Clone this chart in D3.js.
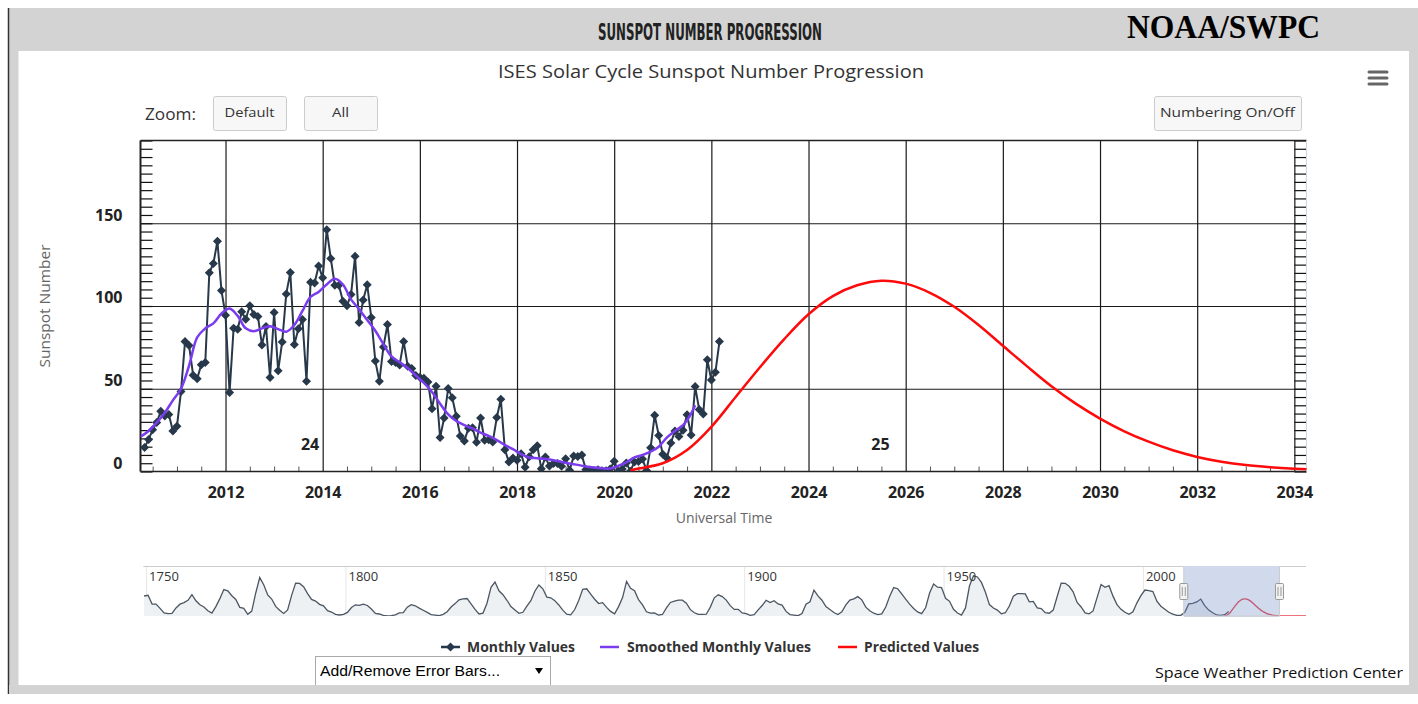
<!DOCTYPE html>
<html>
<head>
<meta charset="utf-8">
<script src="https://cdn.jsdelivr.net/npm/d3@7"></script>
<style>
  body { margin: 0; background: #fff; }
  svg { display: block; font-family: "Open Sans", sans-serif; }
</style>
</head>
<body>
<svg id="chart" width="1418" height="704"></svg>

<script>

// ---- data ----
// monthly sunspot numbers, first value is May 2010
var monthlyStart = "2010-05";
var monthlyValues = [
  14.5, 19.4, 25.2, 29.6, 36.4, 33.6, 34.4, 24.5,
  27.3, 48.3, 78.6, 76.1, 58.2, 56.1, 64.5, 65.8, 120.1, 125.7, 139.1, 109.3,
  94.4, 47.8, 86.6, 85.9, 96.5, 92.0, 100.1, 94.8, 93.7, 76.5, 87.6, 56.8,
  96.1, 60.9, 78.3, 107.3, 120.2, 76.7, 86.2, 91.8, 54.5, 114.4, 113.9, 124.2,
  117.0, 146.1, 128.7, 112.5, 112.5, 102.9, 100.2, 106.9, 130.0, 90.0, 103.6, 112.9,
  93.0, 66.7, 54.5, 75.3, 88.8, 66.5, 65.8, 64.4, 78.6, 63.6, 62.2, 58.0,
  57.0, 56.4, 54.1, 37.9, 51.5, 20.5, 32.4, 50.2, 44.6, 33.4, 21.4, 18.5,
  26.1, 26.4, 17.7, 32.3, 18.9, 19.2, 17.8, 32.6, 43.6, 13.2, 5.7, 8.2,
  6.8, 10.7, 2.5, 8.9, 13.1, 15.6, 1.6, 8.7, 3.3, 4.9, 4.9, 3.1,
  7.7, 0.8, 9.4, 9.1, 9.9, 1.2, 0.9, 0.5, 1.1, 0.4, 0.5, 1.5,
  6.2, 0.2, 1.5, 5.2, 0.2, 5.8, 6.1, 7.5, 0.6, 14.4, 34.0, 21.8,
  10.4, 8.2, 17.2, 24.5, 21.2, 25.0, 34.3, 22.0, 51.3, 37.4, 34.8, 67.5,
  55.3, 59.9, 78.5
];

var smoothedDates = [
  "2010-04","2010-06","2010-08","2010-10","2010-12","2011-02","2011-04","2011-06","2011-08","2011-10","2011-12",
  "2012-02","2012-04","2012-06","2012-08","2012-10","2012-12","2013-02","2013-04","2013-06","2013-08","2013-10","2013-12",
  "2014-02","2014-04","2014-06","2014-08","2014-10","2014-12","2015-02","2015-04","2015-06","2015-08","2015-10","2015-12",
  "2016-02","2016-04","2016-06","2016-08","2016-10","2016-12","2017-02","2017-04","2017-06","2017-08","2017-10","2017-12",
  "2018-02","2018-04","2018-06","2018-08","2018-10","2018-12","2019-02","2019-04","2019-06","2019-08","2019-10","2019-12",
  "2020-02","2020-04","2020-06","2020-08","2020-10","2020-12","2021-02","2021-04","2021-06","2021-07","2021-08","2021-09"
];
var smoothedValues = [
  21, 24.5, 29.5, 35.5, 43, 50, 64, 81, 86.5, 89.5, 95.5,
  98.5, 94, 86.5, 84.8, 86.5, 87.8, 86, 84.5, 88.5, 97, 105.5, 108.5,
  113, 116.5, 113, 104, 98, 91.5, 85, 77, 69.5, 66, 62.5, 58,
  53.5, 48, 41, 34.5, 30.5, 28, 26, 23.5, 21.5, 19, 16, 13.5,
  10.5, 8.5, 8, 7.5, 6.8, 5.8, 4.8, 4, 3, 2.4, 2, 1.8,
  3.4, 5.5, 8.5, 10, 12, 15, 20.5, 24.5, 28, 31, 35, 40
];

var predictedDates = [
  "2020-05","2020-07","2021-01","2021-07","2022-01","2022-07","2023-01","2023-07",
  "2024-01","2024-07","2025-01","2025-07","2026-01","2026-07","2027-01","2027-07","2028-01",
  "2028-07","2029-01","2029-07","2030-01","2030-07","2031-01","2031-07","2032-01","2032-07",
  "2033-01","2033-07","2034-01","2034-07","2035-07","2037-01","2040-12"
];
var predictedValues = [
  0.8, 1.8, 5, 13, 27, 45, 63, 80,
  95, 106, 112.5, 115.3, 113.5, 108, 99.5, 88.5, 76,
  63.5, 51.5, 41, 32, 24.3, 18, 12.8, 8.8, 5.9,
  3.9, 2.6, 1.7, 1.1, 0.6, 0.3, 0.1
];

// yearly values for the navigator, first value is 1749
var historyStart = 1749;
var historyYearly = [
  134.0, 139.0, 79.5, 79.7, 51.2, 20.3, 16.0, 17.0, 54.0, 79.3,
  90.0, 104.8, 143.2, 102.0, 75.2, 60.7, 34.8, 19.0, 63.0, 116.3,
  176.8, 168.0, 136.0, 110.8, 58.0, 51.0, 11.7, 33.0, 154.2, 257.3,
  209.8, 141.3, 113.5, 64.2, 38.0, 17.0, 40.2, 138.2, 220.0, 218.2,
  196.8, 149.8, 111.0, 100.0, 78.2, 68.3, 35.5, 26.7, 10.7, 6.8,
  11.3, 24.2, 56.7, 75.0, 71.8, 79.2, 70.3, 46.8, 16.8, 13.5,
  4.2, 0.0, 2.3, 8.3, 20.3, 23.2, 59.0, 76.3, 68.3, 52.9,
  38.5, 24.2, 9.2, 6.3, 2.2, 11.4, 28.2, 59.9, 83.0, 108.5,
  115.2, 117.4, 80.8, 44.3, 13.4, 19.5, 85.8, 192.7, 227.3, 168.7,
  143.0, 105.5, 63.3, 40.3, 18.1, 25.1, 65.8, 102.7, 166.3, 208.3,
  182.5, 126.3, 122.0, 102.7, 74.1, 39.0, 12.7, 8.2, 43.4, 104.4,
  178.3, 182.2, 146.6, 112.1, 83.5, 89.2, 57.8, 30.7, 13.9, 62.8,
  123.6, 232.0, 185.3, 169.2, 110.1, 74.5, 28.3, 18.9, 20.7, 5.7,
  10.0, 53.7, 90.5, 99.0, 106.1, 105.8, 86.3, 42.4, 21.8, 11.2,
  10.4, 11.8, 59.5, 121.7, 142.0, 130.0, 106.6, 69.4, 43.8, 44.4,
  20.2, 15.7, 4.6, 8.5, 40.8, 70.1, 105.5, 90.1, 102.8, 80.9,
  73.2, 30.9, 9.5, 6.0, 2.4, 16.1, 79.0, 95.0, 173.6, 134.6,
  105.7, 62.7, 43.5, 23.7, 9.7, 27.9, 74.0, 106.5, 114.7, 129.7,
  108.2, 59.4, 35.1, 18.6, 9.2, 14.6, 60.2, 132.8, 190.6, 182.6,
  148.0, 113.0, 79.2, 50.8, 27.1, 16.1, 55.3, 154.3, 214.7, 193.0,
  190.7, 118.9, 98.3, 45.0, 20.1, 6.6, 54.2, 200.7, 269.3, 261.7,
  225.1, 159.0, 76.4, 53.4, 39.9, 15.0, 22.0, 66.8, 132.9, 150.0,
  149.4, 148.0, 94.4, 97.6, 54.1, 49.2, 22.5, 18.4, 39.3, 131.0,
  220.1, 218.9, 198.9, 162.4, 91.0, 60.5, 20.6, 14.8, 33.9, 123.0,
  211.1, 191.8, 203.3, 133.0, 76.1, 44.9, 25.1, 11.6, 28.9, 88.3,
  136.3, 173.9, 170.4, 163.6, 99.3, 65.3, 45.8, 24.7, 12.6, 4.2,
  4.8, 24.9, 80.8, 84.5, 94.0, 113.3, 69.8, 39.8, 21.7, 7.0,
  3.6, 8.8, 29.6
];

var yTicks = [0, 50, 100, 150];
var xTicks = [2012, 2014, 2016, 2018, 2020, 2022, 2024, 2026, 2028, 2030, 2032, 2034];
var navTicks = [1750, 1800, 1850, 1900, 1950, 2000];
var cycleNames = ["24", "25"];
var cycleYears = [2013.74, 2025.48];
var legendNames = ["Monthly Values", "Smoothed Monthly Values", "Predicted Values"];
var viewRange = [2010.25, 2034.25];

// ---- helpers ----
function toYear(s) { return +s.slice(0, 4) + (+s.slice(5, 7) - 1) / 12; }
var monthlyPts = monthlyValues.map(function(v, i) { return { t: toYear(monthlyStart) + i / 12, v: v }; });
var smoothedPts = smoothedDates.map(function(d, i) { return { t: toYear(d), v: smoothedValues[i] }; });
var predictedPts = predictedDates.map(function(d, i) { return { t: toYear(d), v: predictedValues[i] }; });
var historyPts = historyYearly.map(function(v, i) { return { t: historyStart + i + 0.5, v: v }; });

var colMonthly = '#27384a', colSmooth = '#7b3cf0', colPred = '#ff0a0a';

var svg = d3.select('#chart');

// ---- page frame ----
svg.append('rect').attr('x', 9).attr('y', 8).attr('width', 1409).attr('height', 686).attr('fill', '#d3d3d3');
svg.append('line').attr('x1', 8.5).attr('x2', 8.5).attr('y1', 8).attr('y2', 694).attr('stroke', '#333').attr('stroke-width', 1.5);
svg.append('rect').attr('x', 18.5).attr('y', 51).attr('width', 1390.5).attr('height', 634).attr('fill', '#fff');

svg.append('text').attr('x', 710).attr('y', 40).attr('text-anchor', 'middle')
  .attr('font-family', '"DejaVu Sans Condensed", "DejaVu Sans", sans-serif').attr('font-weight', 'bold')
  .attr('font-size', 23).attr('fill', '#222').attr('textLength', 224).attr('lengthAdjust', 'spacingAndGlyphs')
  .text('SUNSPOT NUMBER PROGRESSION');
svg.append('text').attr('x', 1127).attr('y', 38)
  .attr('font-family', '"Liberation Serif", serif').attr('font-weight', 'bold')
  .attr('font-size', 34).attr('fill', '#000').attr('textLength', 193).attr('lengthAdjust', 'spacingAndGlyphs')
  .text('NOAA/SWPC');

svg.append('text').attr('x', 711).attr('y', 78).attr('text-anchor', 'middle')
  .attr('font-size', 18).attr('fill', '#333').attr('textLength', 426).attr('lengthAdjust', 'spacingAndGlyphs')
  .text('ISES Solar Cycle Sunspot Number Progression');

// hamburger
[72, 78, 84].forEach(function(yy) {
  svg.append('line').attr('x1', 1369).attr('x2', 1387).attr('y1', yy).attr('y2', yy)
    .attr('stroke', '#666').attr('stroke-width', 3).attr('stroke-linecap', 'round');
});

// zoom buttons
svg.append('text').attr('x', 145).attr('y', 120).attr('font-size', 17).attr('fill', '#333')
  .attr('textLength', 51).attr('lengthAdjust', 'spacingAndGlyphs').text('Zoom:');
function button(x0, x1, label, tl) {
  svg.append('rect').attr('x', x0 + 0.5).attr('y', 96.5).attr('width', x1 - x0).attr('height', 34).attr('rx', 2)
    .attr('fill', '#f7f7f7').attr('stroke', '#cccccc');
  svg.append('text').attr('x', (x0 + x1) / 2).attr('y', 117).attr('text-anchor', 'middle')
    .attr('font-size', 13).attr('fill', '#333').attr('textLength', tl).attr('lengthAdjust', 'spacingAndGlyphs').text(label);
}
button(213, 286, 'Default', 50);
button(304, 377, 'All', 17);
button(1154, 1301, 'Numbering On/Off', 135);

// ---- main plot ----
var plot = { left: 140.5, right: 1306.5, top: 140.5, bottom: 471.5 };
var x = d3.scaleLinear().domain(viewRange).range([plot.left, plot.right]);
var y = d3.scaleLinear().domain([0, 200]).range([plot.bottom, plot.top]);

// grid
var gx = svg.append('g').attr('transform', 'translate(0,' + plot.bottom + ')')
  .call(d3.axisBottom(x).tickValues(xTicks).tickSize(-(plot.bottom - plot.top)).tickFormat(''));
gx.select('.domain').remove();
gx.selectAll('line').attr('stroke', '#1a1a1a').attr('stroke-width', 1.2);

var gy = svg.append('g').attr('transform', 'translate(' + plot.left + ',0)')
  .call(d3.axisLeft(y).tickValues([50, 100, 150]).tickSize(-(plot.right - plot.left)).tickFormat(''));
gy.select('.domain').remove();
gy.selectAll('line').attr('stroke', '#1a1a1a').attr('stroke-width', 1.2);

// minor ticks
var minorX = d3.range(viewRange[0] + 0.25, viewRange[1], 0.5).filter(function(v) { return v % 2 !== 0; });
var mx = svg.append('g').attr('transform', 'translate(0,' + plot.bottom + ')')
  .call(d3.axisBottom(x).tickValues(minorX).tickSize(-5).tickFormat(''));
mx.select('.domain').remove();
mx.selectAll('line').attr('stroke', '#555');

var minorY = d3.range(0, 201, 5);
var myl = svg.append('g').attr('transform', 'translate(' + plot.left + ',0)')
  .call(d3.axisLeft(y).tickValues(minorY).tickSize(-12).tickFormat(''));
myl.select('.domain').remove();
myl.selectAll('line').attr('stroke', '#111').attr('stroke-width', 1.2);
var myr = svg.append('g').attr('transform', 'translate(' + plot.right + ',0)')
  .call(d3.axisRight(y).tickValues(minorY).tickSize(-12).tickFormat(''));
myr.select('.domain').remove();
myr.selectAll('line').attr('stroke', '#111').attr('stroke-width', 1.2);

// borders
svg.append('line').attr('x1', plot.left).attr('x2', plot.right).attr('y1', plot.top).attr('y2', plot.top).attr('stroke', '#222').attr('stroke-width', 1.5);
svg.append('line').attr('x1', plot.left).attr('x2', plot.right).attr('y1', plot.bottom).attr('y2', plot.bottom).attr('stroke', '#222').attr('stroke-width', 1.5);
svg.append('line').attr('x1', plot.left).attr('x2', plot.left).attr('y1', plot.top).attr('y2', plot.bottom).attr('stroke', '#222').attr('stroke-width', 2);
svg.append('line').attr('x1', plot.right).attr('x2', plot.right).attr('y1', plot.top).attr('y2', plot.bottom).attr('stroke', '#ccd6eb').attr('stroke-width', 1);

// axis labels
var xl = svg.append('g').attr('transform', 'translate(0,' + plot.bottom + ')')
  .call(d3.axisBottom(x).tickValues(xTicks).tickSize(0).tickPadding(15).tickFormat(d3.format('d')));
xl.select('.domain').remove();
xl.attr('font-family', '"Open Sans", sans-serif').attr('font-size', 16).attr('font-weight', 'bold');
xl.selectAll('text').attr('fill', '#222');

var yl = svg.append('g').attr('transform', 'translate(' + plot.left + ',0)')
  .call(d3.axisLeft(y).tickValues(yTicks).tickSize(0).tickPadding(18));
yl.select('.domain').remove();
yl.attr('font-family', '"Open Sans", sans-serif').attr('font-size', 16).attr('font-weight', 'bold');
yl.selectAll('text').attr('fill', '#222').attr('dy', '-0.2em');

svg.append('text').attr('x', 724).attr('y', 523).attr('text-anchor', 'middle')
  .attr('font-size', 14).attr('fill', '#666').text('Universal Time');
svg.append('text').attr('transform', 'translate(50,306) rotate(-90)').attr('text-anchor', 'middle')
  .attr('font-size', 14).attr('fill', '#666').attr('textLength', 123).attr('lengthAdjust', 'spacingAndGlyphs')
  .text('Sunspot Number');

// series
svg.append('clipPath').attr('id', 'plot-clip').append('rect')
  .attr('x', plot.left).attr('y', plot.top - 6).attr('width', plot.right - plot.left).attr('height', plot.bottom - plot.top + 6);
var series = svg.append('g').attr('clip-path', 'url(#plot-clip)');

var line = d3.line().x(function(d) { return x(d.t); }).y(function(d) { return y(d.v); });
var smoothLine = d3.line().curve(d3.curveCatmullRom.alpha(0.5)).x(function(d) { return x(d.t); }).y(function(d) { return y(d.v); });

series.append('path').datum(monthlyPts).attr('d', line)
  .attr('fill', 'none').attr('stroke', colMonthly).attr('stroke-width', 2).attr('stroke-linejoin', 'round');
series.selectAll('path.diamond').data(monthlyPts).enter().append('path').attr('class', 'diamond')
  .attr('d', function(d) {
    var cx = x(d.t), cy = y(d.v), r = 4.5;
    return 'M' + cx + ',' + (cy - r) + 'L' + (cx + r) + ',' + cy + 'L' + cx + ',' + (cy + r) + 'L' + (cx - r) + ',' + cy + 'Z';
  })
  .attr('fill', colMonthly);

series.append('path').datum(smoothedPts).attr('d', smoothLine)
  .attr('fill', 'none').attr('stroke', colSmooth).attr('stroke-width', 2.5);
series.append('path').datum(predictedPts).attr('d', smoothLine)
  .attr('fill', 'none').attr('stroke', colPred).attr('stroke-width', 2.5);

// cycle numbers
cycleNames.forEach(function(c, i) {
  svg.append('text').attr('x', x(cycleYears[i])).attr('y', y(13)).attr('text-anchor', 'middle')
    .attr('font-size', 16).attr('font-weight', 'bold').attr('fill', '#222').text(c);
});

// ---- navigator ----
var nav = { left: 143.3, right: 1306, top: 566, bottom: 616 };
var nx = d3.scaleLinear().domain([1749.3, 2040.9]).range([nav.left, nav.right]);
var ny = d3.scaleLinear().domain([0, 335]).range([nav.bottom, nav.top]);

var ng = svg.append('g').attr('transform', 'translate(0,' + nav.bottom + ')')
  .call(d3.axisBottom(nx).tickValues(navTicks).tickSize(-(nav.bottom - nav.top)).tickFormat(''));
ng.select('.domain').remove();
ng.selectAll('line').attr('stroke', '#e6e6e6');

svg.append('clipPath').attr('id', 'nav-clip').append('rect')
  .attr('x', nav.left).attr('y', nav.top).attr('width', nav.right - nav.left).attr('height', nav.bottom - nav.top);
var navSeries = svg.append('g').attr('clip-path', 'url(#nav-clip)');
var navArea = d3.area().x(function(d) { return nx(d.t); }).y0(nav.bottom).y1(function(d) { return ny(d.v); });
var navLine = d3.line().x(function(d) { return nx(d.t); }).y(function(d) { return ny(d.v); });
var navSmooth = d3.line().curve(d3.curveCatmullRom.alpha(0.5)).x(function(d) { return nx(d.t); }).y(function(d) { return ny(d.v); });

navSeries.append('path').datum(historyPts).attr('d', navArea).attr('fill', '#eef1f4');
navSeries.append('path').datum(historyPts).attr('d', navLine).attr('fill', 'none').attr('stroke', '#4b5662').attr('stroke-width', 1.3);
navSeries.append('path').datum(predictedPts).attr('d', navSmooth).attr('fill', 'none').attr('stroke', '#e8474f').attr('stroke-width', 1.3);

navTicks.forEach(function(t) {
  svg.append('text').attr('x', nx(t) + 3).attr('y', 581).attr('font-size', 13).attr('fill', '#333').text(t);
});

// selection mask and outline
var s0 = nx(viewRange[0]), s1 = nx(viewRange[1]);
svg.append('rect').attr('x', s0).attr('y', nav.top).attr('width', s1 - s0).attr('height', nav.bottom - nav.top + 1)
  .attr('fill', 'rgba(102,133,194,0.3)');
svg.append('path')
  .attr('d', 'M' + nav.left + ',' + (nav.top + 0.5) + 'L' + s0 + ',' + (nav.top + 0.5) + 'L' + s0 + ',' + nav.bottom +
    'L' + s1 + ',' + nav.bottom + 'L' + s1 + ',' + (nav.top + 0.5) + 'L' + nav.right + ',' + (nav.top + 0.5))
  .attr('fill', 'none').attr('stroke', '#cccccc');
[s0, s1].forEach(function(h) {
  svg.append('rect').attr('x', h - 4).attr('y', 583.5).attr('width', 8).attr('height', 16).attr('rx', 1)
    .attr('fill', '#f2f2f2').attr('stroke', '#999');
  [-1.5, 1.5].forEach(function(o) {
    svg.append('line').attr('x1', h + o).attr('x2', h + o).attr('y1', 587).attr('y2', 596).attr('stroke', '#999');
  });
});

// ---- legend ----
var legendSym = [441, 600, 838];
var legendText = [467, 627, 864];
var legendLen = [108, 184, 115];
var legendCol = [colMonthly, colSmooth, colPred];
legendNames.forEach(function(name, i) {
  svg.append('line').attr('x1', legendSym[i]).attr('x2', legendSym[i] + 19).attr('y1', 647).attr('y2', 647)
    .attr('stroke', legendCol[i]).attr('stroke-width', 2.5);
  if (i === 0) {
    var cx = legendSym[i] + 9.5;
    svg.append('path').attr('d', 'M' + cx + ',642.5L' + (cx + 4.5) + ',647L' + cx + ',651.5L' + (cx - 4.5) + ',647Z').attr('fill', colMonthly);
  }
  svg.append('text').attr('x', legendText[i]).attr('y', 652).attr('font-size', 14).attr('font-weight', 'bold')
    .attr('fill', '#333').attr('textLength', legendLen[i]).attr('lengthAdjust', 'spacingAndGlyphs').text(name);
});

// ---- bottom controls ----
svg.append('rect').attr('x', 315.5).attr('y', 656.5).attr('width', 235).attr('height', 32)
  .attr('fill', '#fff').attr('stroke', '#a9a9a9');
svg.append('text').attr('x', 320).attr('y', 676).attr('font-family', '"Liberation Sans", Arial, sans-serif')
  .attr('font-size', 14).attr('fill', '#000').attr('textLength', 180).attr('lengthAdjust', 'spacingAndGlyphs')
  .text('Add/Remove Error Bars...');
svg.append('path').attr('d', 'M535,668L543,668L539,674Z').attr('fill', '#000');

// redraw the bottom gray band over the dropdown
svg.append('rect').attr('x', 9).attr('y', 685).attr('width', 1409).attr('height', 9).attr('fill', '#d3d3d3');

svg.append('text').attr('x', 1403).attr('y', 678).attr('text-anchor', 'end')
  .attr('font-size', 14).attr('fill', '#111').attr('textLength', 248).attr('lengthAdjust', 'spacingAndGlyphs')
  .text('Space Weather Prediction Center');

</script>
</body>
</html>
